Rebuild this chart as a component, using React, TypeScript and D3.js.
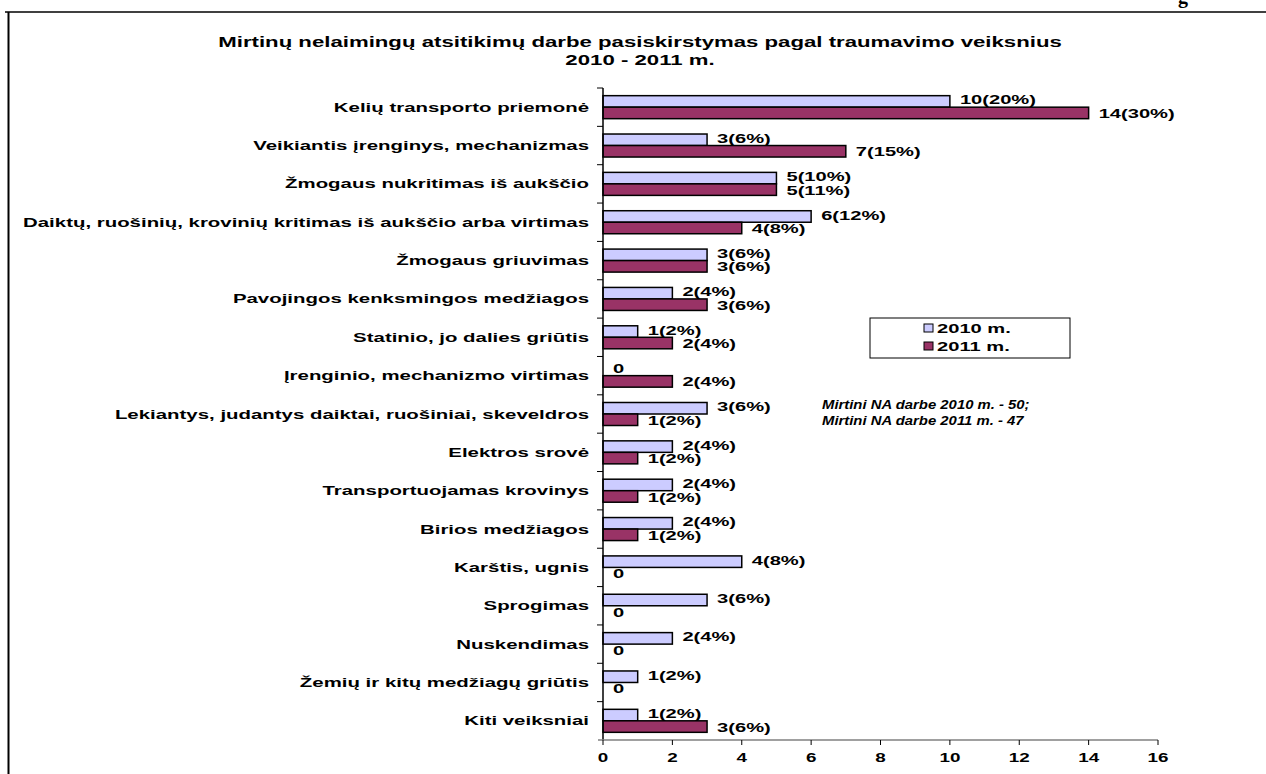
import React, { useEffect, useRef } from 'react';
import * as d3 from 'd3';

const categories = [
  'Kelių transporto priemonė',
  'Veikiantis įrenginys, mechanizmas',
  'Žmogaus nukritimas iš aukščio',
  'Daiktų, ruošinių, krovinių kritimas iš aukščio arba virtimas',
  'Žmogaus griuvimas',
  'Pavojingos kenksmingos medžiagos',
  'Statinio, jo dalies griūtis',
  'Įrenginio, mechanizmo virtimas',
  'Lekiantys, judantys daiktai, ruošiniai, skeveldros',
  'Elektros srovė',
  'Transportuojamas krovinys',
  'Birios medžiagos',
  'Karštis, ugnis',
  'Sprogimas',
  'Nuskendimas',
  'Žemių ir kitų medžiagų griūtis',
  'Kiti veiksniai',
];

const values2010 = [10, 3, 5, 6, 3, 2, 1, 0, 3, 2, 2, 2, 4, 3, 2, 1, 1];
const values2011 = [14, 7, 5, 4, 3, 3, 2, 2, 1, 1, 1, 1, 0, 0, 0, 0, 3];
const pct2010 = [20, 6, 10, 12, 6, 4, 2, 0, 6, 4, 4, 4, 8, 6, 4, 2, 2];
const pct2011 = [30, 15, 11, 8, 6, 6, 4, 4, 2, 2, 2, 2, 0, 0, 0, 0, 6];

const seriesNames = ['2010 m.', '2011 m.'];
const seriesColors = ['#CCCCFF', '#993366'];
const xTicks = [0, 2, 4, 6, 8, 10, 12, 14, 16];

const titleLines = [
  'Mirtinų nelaimingų atsitikimų darbe pasiskirstymas pagal traumavimo veiksnius',
  '2010 - 2011 m.',
];
const noteLines = ['Mirtini NA darbe 2010 m. - 50;', 'Mirtini NA darbe 2011 m. - 47'];

export default function App() {
  const svgRef = useRef<SVGSVGElement>(null);

  useEffect(() => {
    const width = 1266;
    const height = 774;
    const svg = d3.select(svgRef.current).attr('width', width).attr('height', height);
    svg.selectAll('*').remove();

    const font = 'Liberation Sans, Arial, sans-serif';
    // the source picture is stretched sideways, so text gets a horizontal scale
    const at = (x: number, y: number, sx: number) => `translate(${x},${y}) scale(${sx},1)`;

    // frame
    svg.append('line').attr('x1', 5).attr('x2', width).attr('y1', 12).attr('y2', 12)
      .attr('stroke', '#000').attr('stroke-width', 1.5);
    svg.append('line').attr('x1', 8.5).attr('x2', 8.5).attr('y1', 12).attr('y2', height)
      .attr('stroke', '#000').attr('stroke-width', 2);
    svg.append('text').attr('x', 1178).attr('y', 3).attr('font-family', 'Liberation Serif, serif')
      .attr('font-weight', 'bold').attr('font-size', 20).text('g');

    // title
    svg.append('g').selectAll('text').data(titleLines).enter().append('text')
      .attr('transform', (d, i) => at(640, 47 + i * 18, 1.5))
      .attr('text-anchor', 'middle').attr('font-family', font).attr('font-weight', 'bold')
      .attr('font-size', 14.8).text(d => d);

    const left = 603;
    const right = 1158;
    const top = 88;
    const bottom = 740;

    const x = d3.scaleLinear().domain([0, 16]).range([left, right]);
    const y = d3.scaleBand<number>().domain(d3.range(categories.length)).range([top, bottom])
      .paddingInner(0.4).paddingOuter(0.2);
    const sub = d3.scaleBand<number>().domain([0, 1]).range([0, y.bandwidth()]);
    const step = y.step();

    const rows = categories.map((c, i) => ({
      i,
      vals: [values2010[i], values2011[i]],
      pcts: [pct2010[i], pct2011[i]],
    }));

    const g = svg.append('g');
    const rowG = g.selectAll('g.row').data(rows).enter().append('g')
      .attr('transform', d => `translate(0,${y(d.i)})`);

    rowG.selectAll('rect').data(d => d.vals.map((v, s) => ({ v, s }))).enter().append('rect')
      .attr('x', x(0)).attr('y', d => sub(d.s)!)
      .attr('width', d => x(d.v) - x(0)).attr('height', sub.bandwidth())
      .attr('fill', d => seriesColors[d.s])
      .attr('stroke', d => (d.v > 0 ? '#000' : 'none')).attr('stroke-width', 1.5);

    rowG.selectAll('text').data(d => d.vals.map((v, s) => ({ v, s, p: d.pcts[s] }))).enter().append('text')
      .attr('transform', d => at(x(d.v) + 10, sub(d.s)! + sub.bandwidth() / 2 + (d.s === 0 ? -1.5 : 0.5), 1.55))
      .attr('dy', '0.35em')
      .attr('font-family', font).attr('font-weight', 'bold').attr('font-size', 13)
      .text(d => (d.v === 0 ? '0' : `${d.v}(${d.p}%)`));

    // category labels
    g.selectAll('text.cat').data(categories).enter().append('text')
      .attr('transform', (d, i) => at(589, y(i)! + y.bandwidth() / 2, 1.57))
      .attr('dy', '0.35em').attr('text-anchor', 'end')
      .attr('font-family', font).attr('font-weight', 'bold').attr('font-size', 13)
      .text(d => d);

    // axes
    const axisColor = '#808080';
    svg.append('line').attr('x1', left).attr('x2', left).attr('y1', top).attr('y2', bottom)
      .attr('stroke', '#000').attr('stroke-width', 1.5);
    svg.append('line').attr('x1', left - 5).attr('x2', right).attr('y1', bottom).attr('y2', bottom)
      .attr('stroke', axisColor).attr('stroke-width', 1.5);
    svg.append('g').selectAll('line').data(d3.range(categories.length)).enter().append('line')
      .attr('x1', left - 6).attr('x2', left)
      .attr('y1', i => top + i * step).attr('y2', i => top + i * step)
      .attr('stroke', '#000').attr('stroke-width', 1);
    svg.append('g').selectAll('line').data(xTicks).enter().append('line')
      .attr('x1', d => x(d)).attr('x2', d => x(d)).attr('y1', bottom).attr('y2', bottom + 5)
      .attr('stroke', '#000').attr('stroke-width', 1);
    svg.append('g').selectAll('text').data(xTicks).enter().append('text')
      .attr('transform', d => at(x(d), bottom + 22, 1.45)).attr('text-anchor', 'middle')
      .attr('font-family', font).attr('font-weight', 'bold').attr('font-size', 13)
      .text(d => d);

    // legend
    const leg = svg.append('g');
    leg.append('rect').attr('x', 870).attr('y', 318).attr('width', 200).attr('height', 40)
      .attr('fill', '#fff').attr('stroke', '#000').attr('stroke-width', 1);
    seriesNames.forEach((n, i) => {
      leg.append('rect').attr('x', 924).attr('y', 324 + i * 18).attr('width', 9).attr('height', 8)
        .attr('fill', seriesColors[i]).attr('stroke', '#000').attr('stroke-width', 1);
      leg.append('text').attr('transform', at(937, 328 + i * 18, 1.55)).attr('dy', '0.35em')
        .attr('font-family', font).attr('font-weight', 'bold').attr('font-size', 13).text(n);
    });

    // notes
    svg.append('g').selectAll('text').data(noteLines).enter().append('text')
      .attr('transform', (d, i) => at(822, 409 + i * 16, 1.24))
      .attr('font-family', font).attr('font-weight', 'bold').attr('font-style', 'italic')
      .attr('font-size', 12).text(d => d);
  }, []);

  return <svg ref={svgRef} style={{ position: 'absolute', left: 0, top: 0, background: '#fff' }} />;
}
